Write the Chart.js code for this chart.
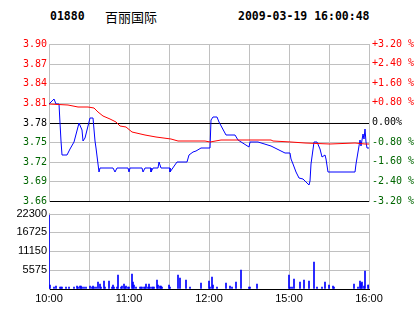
<!DOCTYPE html>
<html>
<head>
<meta charset="utf-8">
<script src="https://cdn.jsdelivr.net/npm/chart.js@4/dist/chart.umd.min.js"></script>
<style>
  body { margin: 0; background: #fff; width: 414px; height: 314px; overflow: hidden; position: relative; }
  .hdr { position: absolute; top: 9px; line-height: 14px; font: bold 11.5px "DejaVu Sans Mono", monospace; color: #000; white-space: nowrap; }
  .name { position: absolute; top: 7px; line-height: 16px; font: 13px "Noto Sans CJK SC", sans-serif; color: #000; }
  canvas { position: absolute; left: 0; }
</style>
</head>
<body>
<div class="hdr" style="left:50px">01880</div>
<div class="name" style="left:105px">百丽国际</div>
<div class="hdr" style="left:238px">2009-03-19 16:00:48</div>
<canvas id="priceChart" width="414" height="180" style="top:30px"></canvas>
<canvas id="volChart" width="414" height="109" style="top:205px"></canvas>
<script>
// axes
const prevClose = 3.78;
const priceTicks = [3.66, 3.69, 3.72, 3.75, 3.78, 3.81, 3.84, 3.87, 3.90];
const pctLabels = ['-3.20 %', '-2.40 %', '-1.60 %', '-0.80 %', '0.00%', '+0.80 %', '+1.60 %', '+2.40 %', '+3.20 %'];
const volTicks = [0, 5575, 11150, 16725, 22300];
const timeTicks = [0, 30, 60, 90, 120, 150, 180, 210, 240];   // minutes of trading since 10:00
const timeLabels = ['10:00', '', '11:00', '', '12:00', '', '15:00', '', '16:00'];

// last price (blue)
const priceMinutes = [0, 3.75, 5, 7.5, 8.5, 9.3, 9.8, 13.8, 15.5, 18.5, 22.5, 24.5, 25.5, 27, 28.5, 30.5, 33, 34.3, 35.5, 37.5, 38,
  48, 49.3, 51, 59, 60, 61, 69.8, 70.5, 71.8, 76.3, 76.8, 78, 81.8, 82.8, 83.8, 90.5, 91, 96, 103.5, 104.8, 108, 110.5, 113.8,
  120.5, 121.3, 123, 126, 127.6, 133, 139.8, 141.8, 150, 150.9, 156.8, 166.8, 176.8, 180.5, 181.8, 183, 185.5, 187.3, 190.5,
  192.3, 194.8, 195.5, 196.8, 198.8, 200.8, 203, 205, 206.8, 208, 209.3, 229.3, 230.5, 232.3, 233.3, 234.3, 235.5, 236.3,
  237.3, 238, 238.8, 240];
const priceValues = [3.808, 3.816, 3.808, 3.808, 3.78, 3.752, 3.731, 3.731, 3.74, 3.75, 3.779, 3.769, 3.752, 3.756, 3.769, 3.787, 3.787, 3.752, 3.741, 3.704, 3.711,
  3.711, 3.704, 3.711, 3.711, 3.704, 3.711, 3.711, 3.704, 3.711, 3.711, 3.704, 3.711, 3.711, 3.72, 3.711, 3.711, 3.704, 3.72, 3.72, 3.73, 3.735, 3.737, 3.741,
  3.741, 3.784, 3.788, 3.788, 3.781, 3.761, 3.761, 3.754, 3.743, 3.75, 3.75, 3.744, 3.734, 3.733, 3.724, 3.717, 3.704, 3.695, 3.694,
  3.69, 3.684, 3.69, 3.716, 3.75, 3.75, 3.739, 3.727, 3.731, 3.724, 3.704, 3.704, 3.716, 3.744, 3.754, 3.744, 3.763, 3.755,
  3.77, 3.75, 3.741, 3.741];

// average price (red)
const avgMinutes = [0, 14.3, 21.8, 29.3, 33.8, 36.8, 40.5, 45.5, 50.5, 53, 58, 62.3, 71.8, 80.5, 91.8, 96.8, 116.8, 120.5,
  129.3, 166.8, 168, 181.8, 192.3, 210.5, 229.3, 236.8, 240];
const avgValues = [3.808, 3.806, 3.804, 3.803, 3.8015, 3.796, 3.79, 3.785, 3.7815, 3.775, 3.773, 3.765, 3.7615, 3.7575, 3.755, 3.7515, 3.751, 3.75,
  3.753, 3.7525, 3.7515, 3.75, 3.748, 3.7465, 3.748, 3.7465, 3.7465];

// volume
const volMinutes = [0, 1, 4, 5, 8, 9, 10, 13, 15, 19, 21, 22, 23, 24, 25, 26, 28, 31, 32, 33, 34, 35, 37, 38, 39, 41, 42, 45, 47, 48, 49,
  51, 52, 54, 55, 56, 57, 58, 59, 60, 62, 63, 64, 65, 68, 69, 70, 71, 72, 73, 74, 75, 76, 77, 78, 79, 81, 82, 83, 84, 85, 90, 91,
  97, 98, 103, 106, 114, 120, 121, 122, 123, 126, 133, 136, 137, 140, 144, 150, 151, 156, 180, 181, 182, 184, 188, 191, 195,
  199, 201, 205, 207, 210, 213, 214, 229, 232, 233, 234, 235, 236, 237, 239, 240];
const volValues = [21800, 1200, 650, 930, 650, 650, 650, 650, 650, 650, 930, 650, 930, 930, 650, 650, 650, 930, 650, 930, 650, 650, 2040, 1390, 650, 2320, 650, 2320, 650, 1200, 650,
  650, 4000, 650, 930, 1390, 650, 930, 650, 650, 4460, 2040, 1200, 650, 650, 650, 650, 650, 650, 1390, 650, 1390, 650, 650, 650, 650, 2600, 1200, 930, 930, 650, 1200, 650,
  4180, 3250, 2790, 650, 1670, 2320, 650, 3440, 1200, 650, 1770, 930, 650, 2040, 5570, 650, 650, 1490, 4270, 650, 650, 2880, 2040, 2600, 2320,
  7900, 650, 650, 2040, 1200, 930, 650, 1490, 650, 2320, 1770, 2040, 930, 5390, 1200, 1200];

const GRID = '#c0c0c0';
const RED = '#ff0000';
const GREEN = '#006600';
const monoFont = { family: 'DejaVu Sans Mono', size: 10 };
const sansFont = { family: 'Liberation Sans', size: 11 };

const toPoints = (xs, ys) => xs.map((x, i) => ({ x: x, y: ys[i] }));
const setTicks = list => scale => { scale.ticks = list.map(v => ({ value: v })); };
const priceColor = v => (Math.abs(v - prevClose) < 1e-6 ? '#000' : (v > prevClose ? RED : GREEN));

// --- price panel ---
new Chart(document.getElementById('priceChart'), {
  type: 'line',
  data: {
    datasets: [
      { data: toPoints(avgMinutes, avgValues), borderColor: RED, borderWidth: 1, pointRadius: 0, tension: 0, yAxisID: 'y' },
      { data: toPoints(priceMinutes, priceValues), borderColor: '#0000ff', borderWidth: 1, pointRadius: 0, tension: 0, yAxisID: 'y' }
    ]
  },
  options: {
    responsive: false,
    animation: false,
    devicePixelRatio: 1,
    layout: { padding: { top: 14, bottom: 6, left: 0, right: 0 } },
    plugins: { legend: { display: false }, tooltip: { enabled: false } },
    scales: {
      x: {
        type: 'linear', min: 0, max: 240, alignToPixels: true,
        afterBuildTicks: setTicks(timeTicks),
        afterFit: s => { s.height = 0; },
        ticks: { display: false },
        grid: { color: GRID, drawTicks: false },
        border: { color: '#000' }
      },
      y: {
        position: 'left', min: 3.66, max: 3.90, alignToPixels: true,
        afterBuildTicks: setTicks(priceTicks),
        afterFit: s => { s.width = 49; },
        ticks: {
          font: monoFont, padding: 2,
          color: ctx => priceColor(ctx.tick.value),
          callback: v => v.toFixed(2)
        },
        grid: {
          drawTicks: false,
          color: ctx => (Math.abs(ctx.tick.value - prevClose) < 1e-6 || Math.abs(ctx.tick.value - 3.66) < 1e-6 ? '#000' : GRID)
        },
        border: { color: GRID }
      },
      y2: {
        position: 'right', min: 3.66, max: 3.90,
        afterBuildTicks: setTicks(priceTicks),
        afterFit: s => { s.width = 45; },
        ticks: {
          font: monoFont, padding: 3,
          color: ctx => priceColor(ctx.tick.value),
          callback: (v, i) => pctLabels[i]
        },
        grid: { display: false, drawTicks: false },
        border: { color: GRID }
      }
    }
  }
});

// --- volume panel ---
new Chart(document.getElementById('volChart'), {
  type: 'bar',
  data: {
    datasets: [{ data: toPoints(volMinutes, volValues), backgroundColor: '#0000ff', borderWidth: 0, barThickness: 1 }]
  },
  options: {
    responsive: false,
    animation: false,
    devicePixelRatio: 1,
    layout: { padding: { top: 4, bottom: 0, left: 0, right: 45 } },
    plugins: { legend: { display: false }, tooltip: { enabled: false } },
    scales: {
      x: {
        type: 'linear', min: 0, max: 240, offset: false, alignToPixels: true,
        afterBuildTicks: setTicks(timeTicks),
        afterFit: s => { s.height = 25; },
        ticks: { font: sansFont, color: '#000', padding: 3, autoSkip: false, maxRotation: 0, callback: (v, i) => timeLabels[i] },
        grid: { color: GRID, drawTicks: false, offset: false },
        border: { color: '#000' }
      },
      y: {
        min: 0, max: 22300, alignToPixels: true,
        afterBuildTicks: setTicks(volTicks),
        afterFit: s => { s.width = 49; },
        ticks: { font: sansFont, color: '#000', padding: 2, callback: v => (v === 0 ? '' : String(v)) },
        grid: { color: GRID, drawTicks: false },
        border: { color: GRID }
      }
    }
  }
});
</script>
</body>
</html>
